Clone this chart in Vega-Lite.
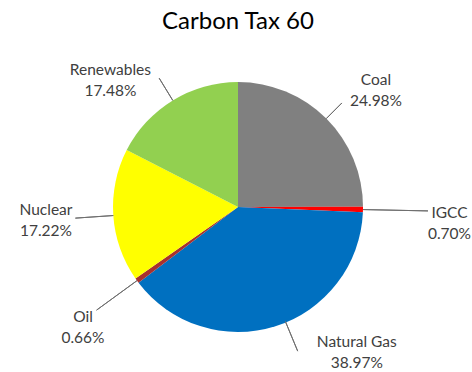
{
  "$schema": "https://vega.github.io/schema/vega-lite/v6.json",
  "width": 476,
  "height": 330,
  "autosize": "none",
  "padding": {"left": 0, "top": 42, "right": 0, "bottom": 0},
  "background": "#ffffff",
  "title": {"text": "Carbon Tax 60", "font": "Lato", "fontSize": 24, "fontWeight": "normal", "color": "#000000", "anchor": "middle", "offset": 8},
  "config": {"view": {"stroke": null}},
  "data": {"values": [
    {"source": "Coal", "share": 0.2498, "rank": 1},
    {"source": "IGCC", "share": 0.0070, "rank": 2},
    {"source": "Natural Gas", "share": 0.3897, "rank": 3},
    {"source": "Oil", "share": 0.0066, "rank": 4},
    {"source": "Nuclear", "share": 0.1722, "rank": 5},
    {"source": "Renewables", "share": 0.1748, "rank": 6}
  ]},
  "encoding": {
    "theta": {"field": "share", "type": "quantitative", "stack": true},
    "order": {"field": "rank", "type": "quantitative"}
  },
  "resolve": {"scale": {"theta": "independent"}},
  "layer": [
    {
      "mark": {"type": "arc", "outerRadius": 125},
      "encoding": {
        "color": {"field": "source", "type": "nominal", "legend": null,
          "scale": {"domain": ["Coal", "IGCC", "Natural Gas", "Oil", "Nuclear", "Renewables"],
                    "range": ["#808080", "#FF0000", "#0070C0", "#A8312E", "#FFFF00", "#92D050"]}}
      }
    },
    {
      "mark": {"type": "arc", "filled": false, "stroke": "#6f6f6f", "strokeWidth": 1, "padAngle": 3.14159, "innerRadius": 125,
        "outerRadius": {"expr": "({'Coal':147,'IGCC':190,'Natural Gas':125,'Oil':175,'Nuclear':163,'Renewables':151})[datum.source]"}
      },
      "encoding": {"color": {"value": "#6f6f6f"}}
    },
    {
      "transform": [{"filter": "datum.source === 'Natural Gas'"}],
      "mark": {"type": "arc", "filled": false, "stroke": "#6f6f6f", "strokeWidth": 1, "padAngle": 3.14159, "innerRadius": 124, "outerRadius": 156},
      "encoding": {
        "theta": {"field": "share", "type": "quantitative", "stack": true, "scale": {"domain": [0, 1.0001], "range": [1.5248, 7.8080]}},
        "color": {"value": "#6f6f6f"}
      }
    },
    {
      "mark": {"type": "text", "font": "Lato", "fontSize": 15.5, "dy": -10.5, "baseline": "middle", "align": "center",
        "radius": {"expr": "({'Coal':180.3,'IGCC':212.1,'Natural Gas':188.2,'Oil':196.2,'Nuclear':192.5,'Renewables':179.6})[datum.source]"},
        "thetaOffset": {"expr": "({'Coal':0.087,'IGCC':0.057,'Natural Gas':-0.379,'Oil':-0.030,'Nuclear':0,'Renewables':-0.241})[datum.source]"}
      },
      "encoding": {
        "text": {"field": "source", "type": "nominal"},
        "color": {"value": "#404040"}
      }
    },
    {
      "mark": {"type": "text", "font": "Lato", "fontSize": 15.5, "dy": 10.5, "baseline": "middle", "align": "center",
        "radius": {"expr": "({'Coal':180.3,'IGCC':212.1,'Natural Gas':188.2,'Oil':196.2,'Nuclear':192.5,'Renewables':179.6})[datum.source]"},
        "thetaOffset": {"expr": "({'Coal':0.087,'IGCC':0.057,'Natural Gas':-0.379,'Oil':-0.030,'Nuclear':0,'Renewables':-0.241})[datum.source]"}
      },
      "encoding": {
        "text": {"field": "share", "type": "quantitative", "format": ".2%"},
        "color": {"value": "#404040"}
      }
    }
  ]
}
